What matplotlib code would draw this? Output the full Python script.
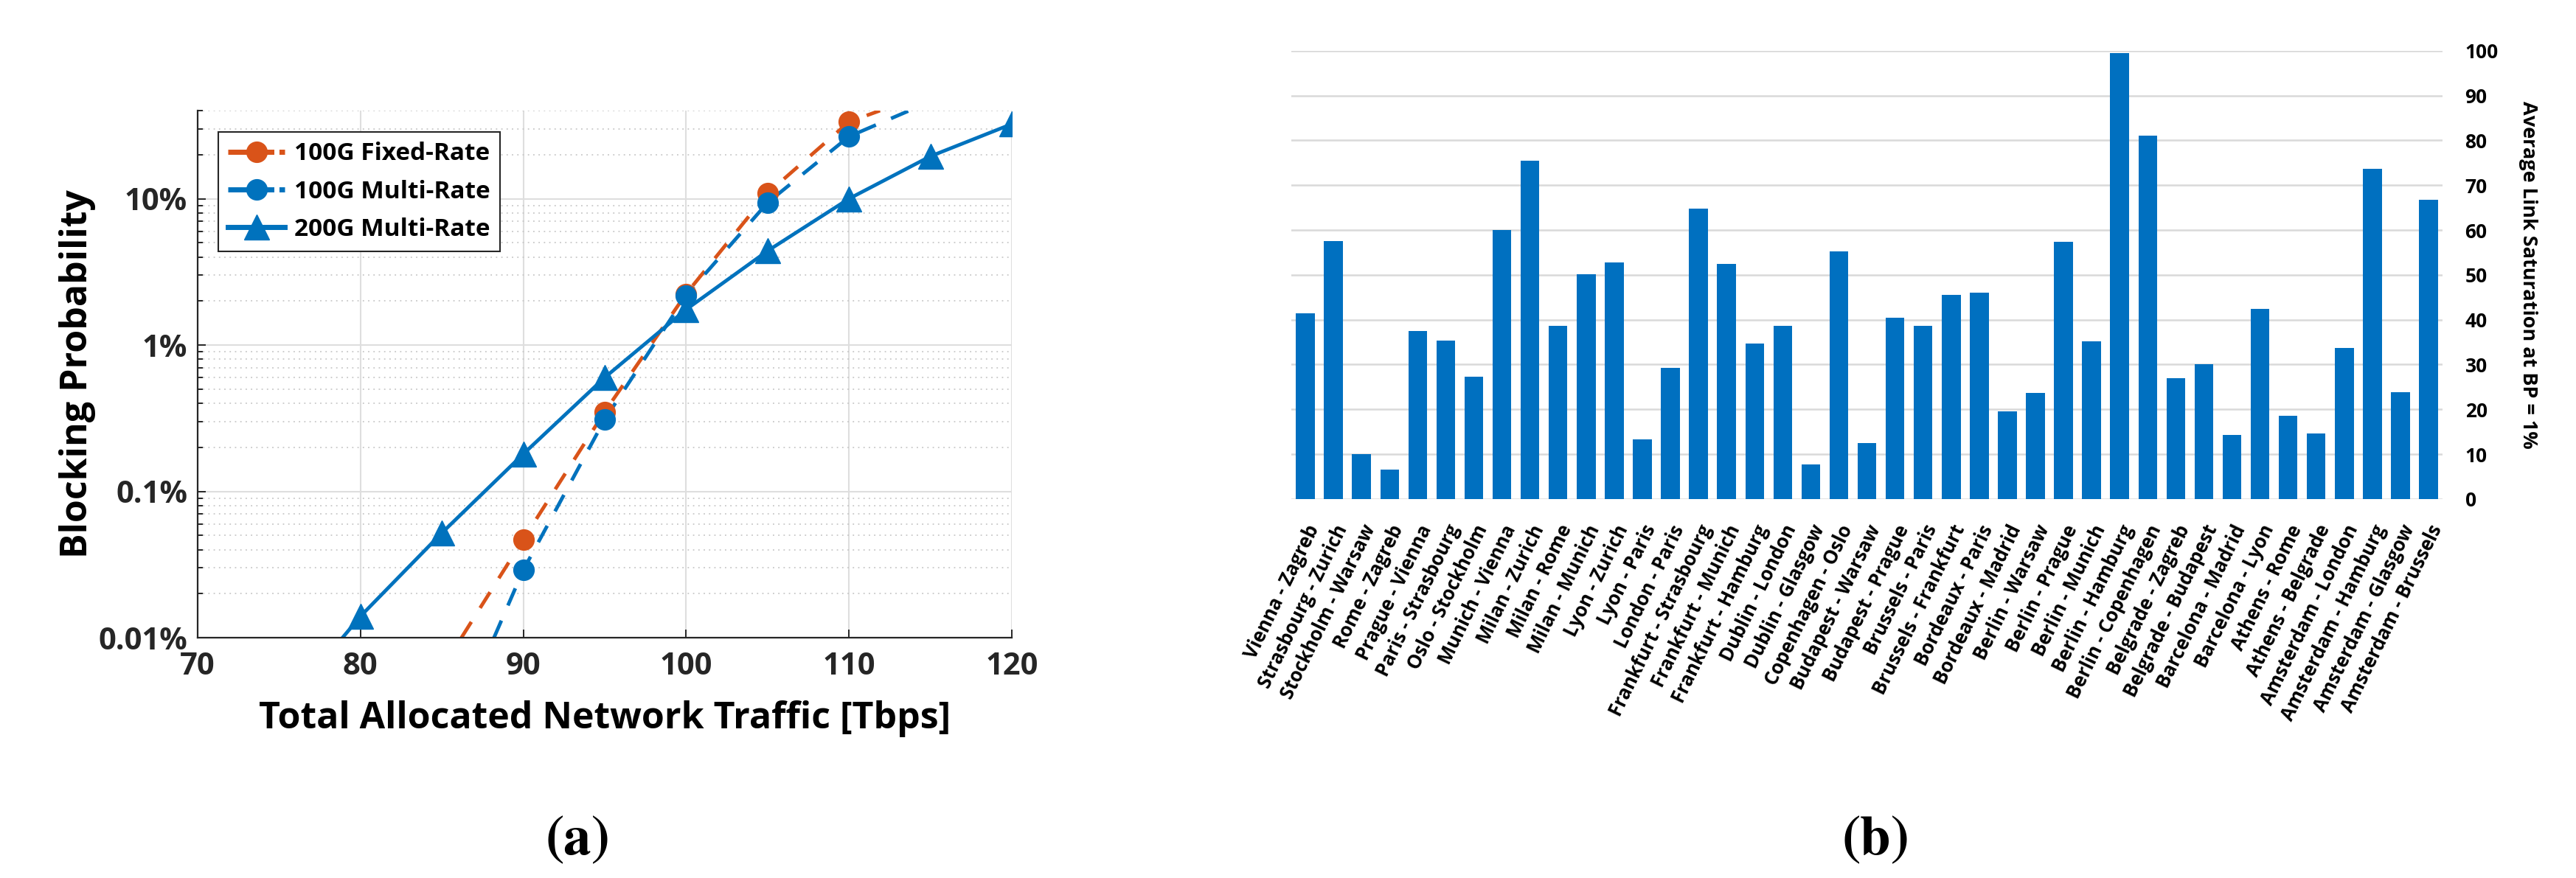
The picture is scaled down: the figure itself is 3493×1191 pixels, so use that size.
import numpy as np
import matplotlib.pyplot as plt
from matplotlib.ticker import LogLocator, NullFormatter, FixedLocator, MultipleLocator

plt.rcParams['font.family'] = ['Open Sans', 'DejaVu Sans']
plt.rcParams['font.weight'] = 'bold'
plt.rcParams['axes.labelweight'] = 'bold'
plt.rcParams['mathtext.fontset'] = 'stix'

# (a) blocking probability vs. total allocated traffic
traffic_fixed_100g = [90, 95, 100, 105, 110]
bp_fixed_100g = [4.7e-4, 3.5e-3, 0.0224, 0.109, 0.335]
traffic_multi_100g = [90, 95, 100, 105, 110]
bp_multi_100g = [2.9e-4, 3.1e-3, 0.0218, 0.094, 0.266]
traffic_multi_200g = [80, 85, 90, 95, 100, 105, 110, 115, 120]
bp_multi_200g = [1.4e-4, 5.2e-4, 1.8e-3, 6.0e-3, 0.0175, 0.044, 0.100, 0.195, 0.324]

# the curves run past the markers
curve_x_fixed_100g = [86.2, 90, 95, 100, 105, 110, 111.9]
curve_y_fixed_100g = [1e-4, 4.7e-4, 3.5e-3, 0.0224, 0.109, 0.335, 0.40]
curve_x_multi_100g = [88.2, 90, 95, 100, 105, 110, 113.7]
curve_y_multi_100g = [1e-4, 2.9e-4, 3.1e-3, 0.0218, 0.094, 0.266, 0.40]
curve_x_multi_200g = [78.9, 80, 85, 90, 95, 100, 105, 110, 115, 120]
curve_y_multi_200g = [1e-4, 1.4e-4, 5.2e-4, 1.8e-3, 6.0e-3, 0.0175, 0.044, 0.100, 0.195, 0.324]

ytick_vals = [1e-4, 1e-3, 1e-2, 1e-1]
ytick_text = ['0.01%', '0.1%', '1%', '10%']

# (b) average link saturation at BP = 1%
links = ['Vienna - Zagreb', 'Strasbourg - Zurich', 'Stockholm - Warsaw', 'Rome - Zagreb',
         'Prague - Vienna', 'Paris - Strasbourg', 'Oslo - Stockholm', 'Munich - Vienna',
         'Milan - Zurich', 'Milan - Rome', 'Milan - Munich', 'Lyon - Zurich', 'Lyon - Paris',
         'London - Paris', 'Frankfurt - Strasbourg', 'Frankfurt - Munich', 'Frankfurt - Hamburg',
         'Dublin - London', 'Dublin - Glasgow', 'Copenhagen - Oslo', 'Budapest - Warsaw',
         'Budapest - Prague', 'Brussels - Paris', 'Brussels - Frankfurt', 'Bordeaux - Paris',
         'Bordeaux - Madrid', 'Berlin - Warsaw', 'Berlin - Prague', 'Berlin - Munich',
         'Berlin - Hamburg', 'Berlin - Copenhagen', 'Belgrade - Zagreb', 'Belgrade - Budapest',
         'Barcelona - Madrid', 'Barcelona - Lyon', 'Athens - Rome', 'Athens - Belgrade',
         'Amsterdam - London', 'Amsterdam - Hamburg', 'Amsterdam - Glasgow', 'Amsterdam - Brussels']
saturation = [41.5, 57.5, 10.0, 6.5, 37.5, 35.3, 27.3, 60.0, 75.5, 38.7, 50.2, 52.7, 13.3,
              29.2, 64.8, 52.5, 34.7, 38.6, 7.8, 55.2, 12.5, 40.4, 38.6, 45.5, 46.0, 19.5,
              23.7, 57.4, 35.1, 99.5, 81.0, 27.0, 30.0, 14.3, 42.4, 18.5, 14.6, 33.7, 73.7,
              23.8, 66.8]

orange = '#D95319'
blue = '#0072BD'
bar_blue = '#0070C0'

fig = plt.figure(figsize=(34.93, 11.91), dpi=100)

# ---------- (a) ----------
ax1 = fig.add_axes([0.0767, 0.2737, 0.3161, 0.6003])
lw = 3.5
dash = (5.2, 4.6)
ax1.plot(curve_x_fixed_100g, curve_y_fixed_100g, color=orange, lw=lw, dashes=dash)
ax1.plot(curve_x_multi_100g, curve_y_multi_100g, color=blue, lw=lw, dashes=dash)
ax1.plot(curve_x_multi_200g, curve_y_multi_200g, color=blue, lw=lw)
ax1.plot(traffic_fixed_100g, bp_fixed_100g, 'o', color=orange, ms=20, ls='none')
ax1.plot(traffic_multi_100g, bp_multi_100g, 'o', color=blue, ms=20, ls='none')
ax1.plot(traffic_multi_200g, bp_multi_200g, '^', color=blue, ms=25, ls='none')

# legend handles combine line and marker
h1, = ax1.plot([], [], color=orange, lw=5, dashes=(4, 1), marker='o', ms=20)
h2, = ax1.plot([], [], color=blue, lw=5, dashes=(4, 1), marker='o', ms=20)
h3, = ax1.plot([], [], color=blue, lw=5, marker='^', ms=24)

ax1.set_yscale('log')
ax1.set_xlim(70, 120)
ax1.set_ylim(1e-4, 0.4)
ax1.set_xticks(np.arange(70, 121, 10))
ax1.yaxis.set_major_locator(FixedLocator(ytick_vals))
ax1.set_yticklabels(ytick_text)
ax1.yaxis.set_minor_locator(LogLocator(base=10, subs=np.arange(2, 10)))
ax1.yaxis.set_minor_formatter(NullFormatter())

ax1.grid(which='major', color='#dedede', lw=1.5, ls='-')
ax1.grid(which='minor', axis='y', color='#c8c8c8', lw=1.3, ls=(0, (1, 3)))
ax1.set_axisbelow(True)
for s in ['top', 'right']:
    ax1.spines[s].set_visible(False)
for s in ['left', 'bottom']:
    ax1.spines[s].set_color('#262626')
    ax1.spines[s].set_linewidth(1.6)
ax1.tick_params(which='both', direction='in', color='#262626', width=1.4)
ax1.tick_params(which='major', length=8, labelsize=30, labelcolor='#262626')
ax1.tick_params(which='minor', length=5)
ax1.tick_params(axis='x', pad=14)
ax1.tick_params(axis='y', pad=10)

ax1.set_xlabel('Total Allocated Network Traffic [Tbps]', fontsize=36, labelpad=18)
ax1.set_ylabel('Blocking Probability', fontsize=36, labelpad=2)

leg = ax1.legend([h1, h2, h3], ['100G Fixed-Rate', '100G Multi-Rate', '200G Multi-Rate'],
                 loc='upper left', bbox_to_anchor=(296 / 3493, 1 - 179 / 1191),
                 bbox_transform=fig.transFigure, fontsize=24, fancybox=False,
                 edgecolor='#262626', framealpha=1, handlelength=2.3, borderpad=0.4,
                 labelspacing=0.55, handletextpad=0.4, borderaxespad=0)
leg.get_frame().set_linewidth(1.5)

# ---------- (b) ----------
ax2 = fig.add_axes([0.5013, 0.4316, 0.4469, 0.5107])
pos = np.arange(len(links))
ax2.bar(pos, saturation, width=0.67, color=bar_blue, zorder=3)
ax2.set_xlim(-0.5, len(links) - 0.5)
ax2.set_ylim(0, 100)
ax2.yaxis.set_major_locator(MultipleLocator(10))
ax2.grid(axis='y', color='#d9d9d9', lw=1.8)
ax2.set_axisbelow(True)
for s in ax2.spines.values():
    s.set_visible(False)
ax2.tick_params(axis='y', length=0, labelleft=False, labelright=True, pad=22, labelsize=19)
ax2.yaxis.set_label_position('right')
ax2.set_ylabel('Average Link Saturation at BP = 1%', rotation=270, fontsize=19.5, labelpad=38)
ax2.set_xticks(pos)
ax2.set_xticklabels(links, rotation=64, ha='right', rotation_mode='anchor', fontsize=18.5)
ax2.tick_params(axis='x', length=0, pad=22)

# sub-figure captions
fig.text(782 / 3493, 1 - 1140 / 1191, r'$(\mathbf{a})$', fontsize=54, ha='center', va='center')
fig.text(2542 / 3493, 1 - 1140 / 1191, r'$(\mathbf{b})$', fontsize=54, ha='center', va='center')

fig.savefig('out.png', dpi=100)
